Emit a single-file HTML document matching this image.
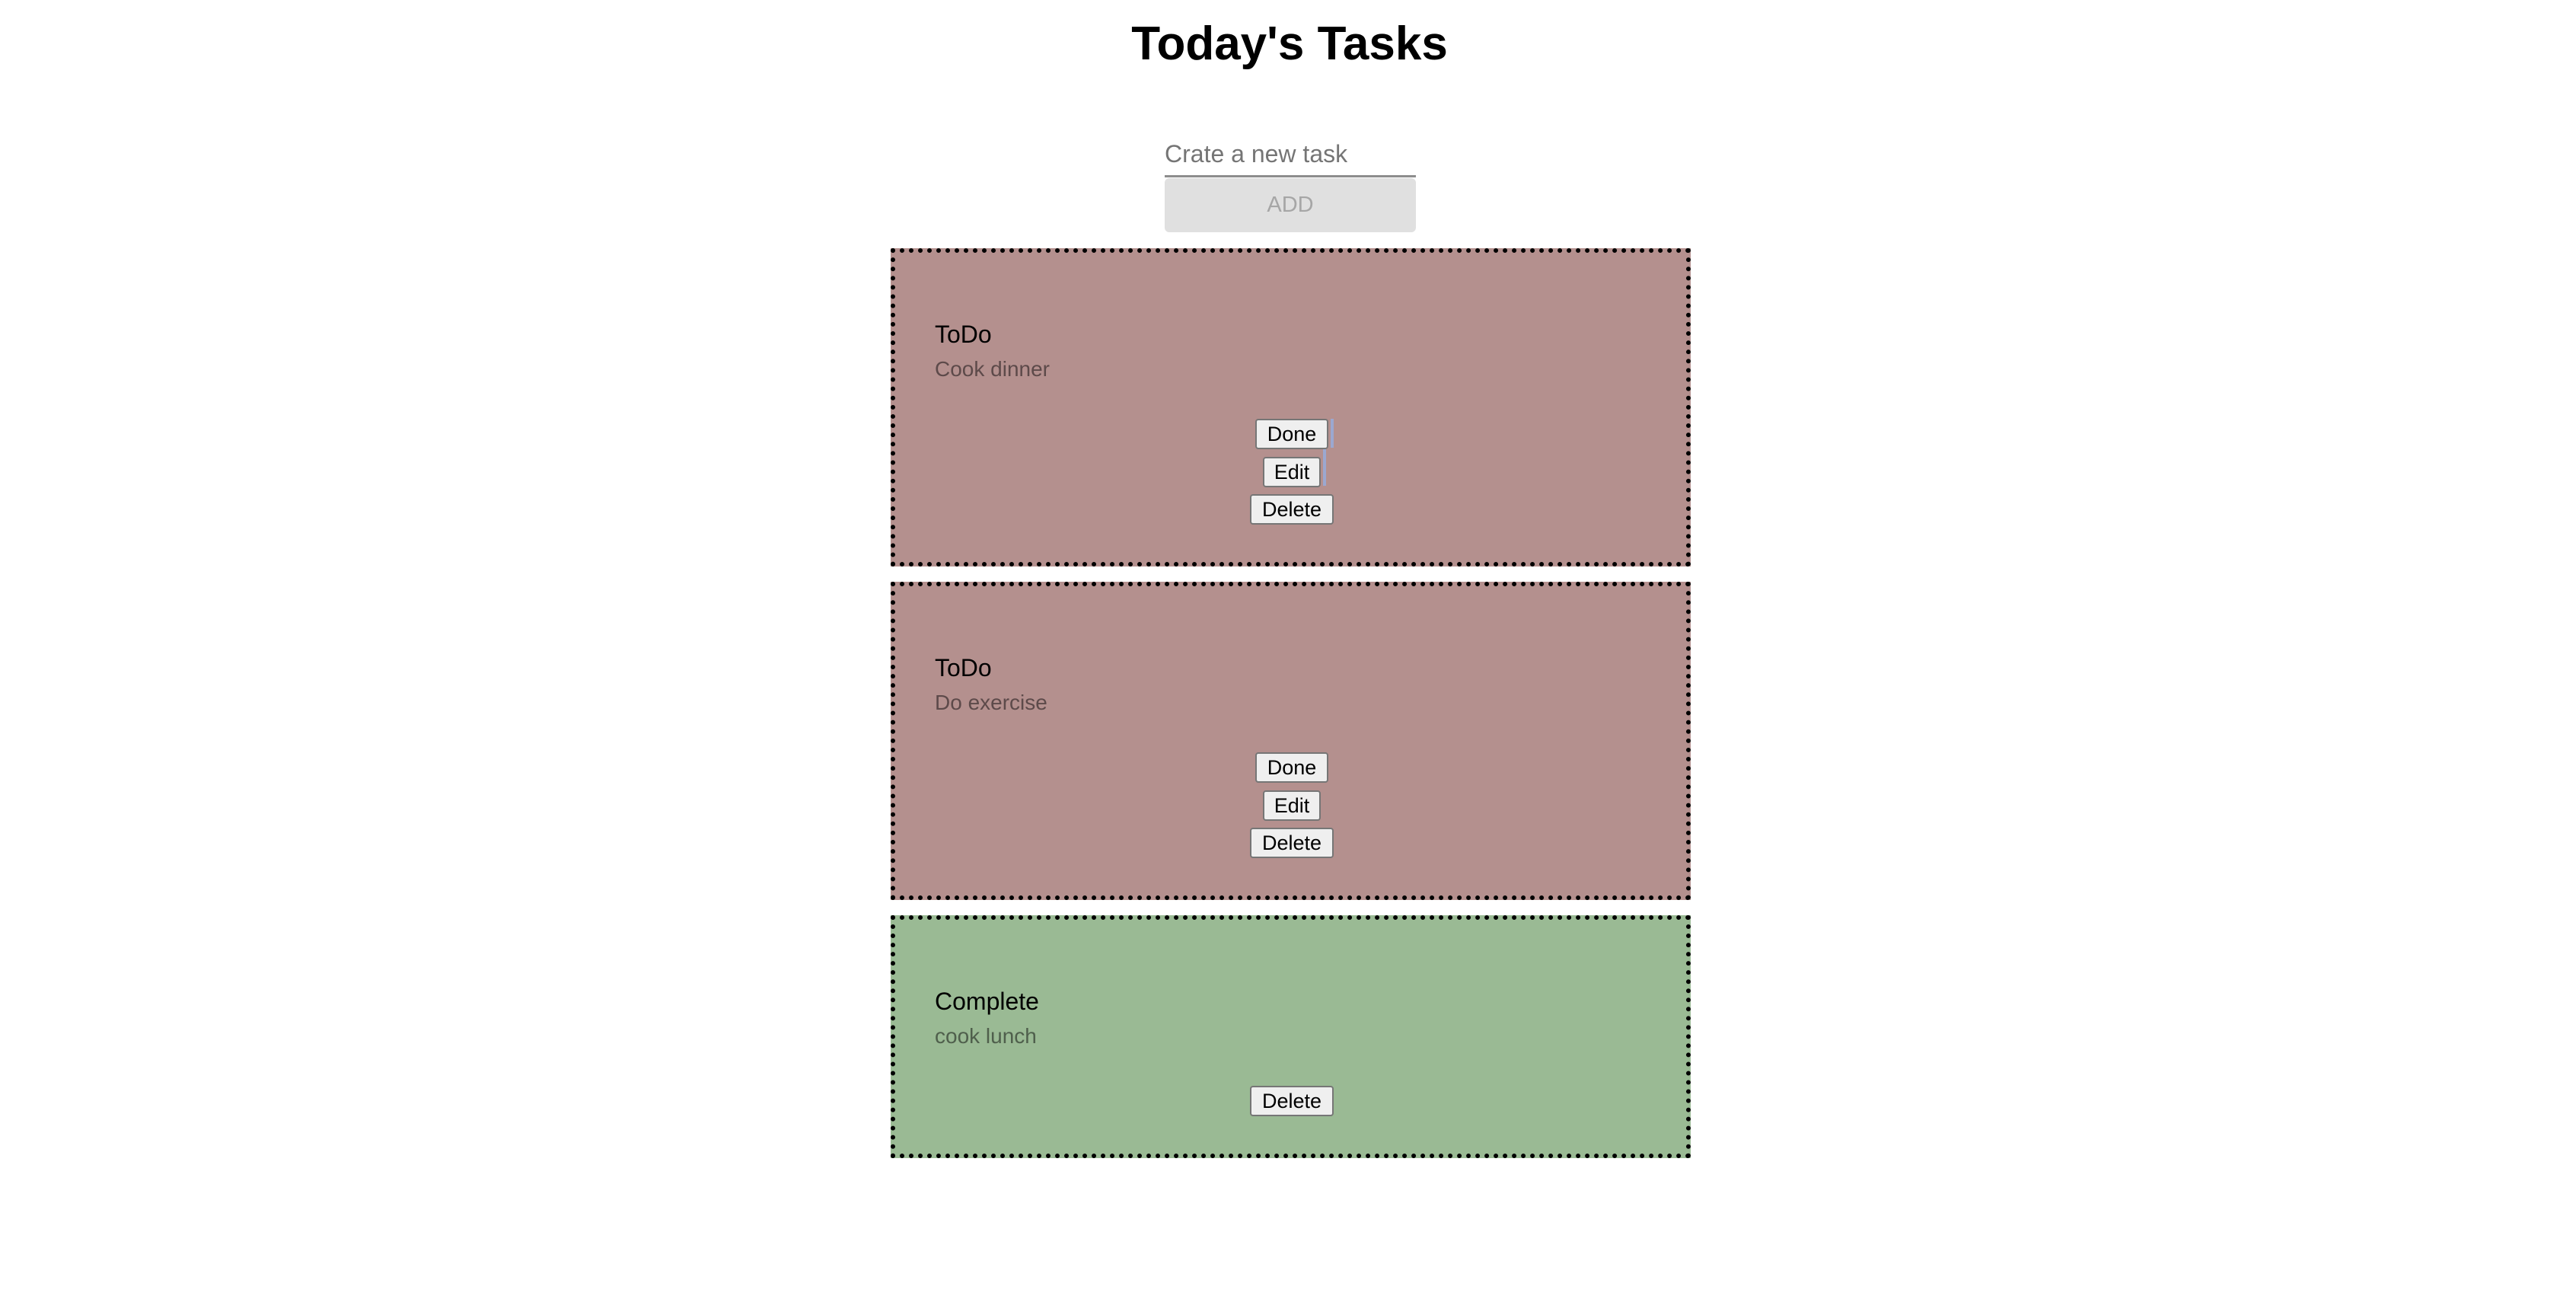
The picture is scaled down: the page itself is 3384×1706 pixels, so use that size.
<!DOCTYPE html>
<html><head><meta charset="utf-8"><style>
html,body{margin:0;padding:0;background:#fff;width:3384px;height:1706px;overflow:hidden;font-family:"Liberation Sans",Arial,sans-serif;position:relative}
.abs{position:absolute}
h1{position:absolute;left:0;width:3388px;top:22px;margin:0;text-align:center;font-size:62px;font-weight:bold;color:#000}
.ph{left:1530px;top:184px;font-size:32px;color:#757575}
.line{left:1530px;top:230px;width:330px;height:3px;background:#8d8d8d}
.add{left:1530px;top:234px;width:330px;height:71px;background:#e0e0e0;border-radius:6px;color:#a6a6a6;font-size:29px;text-align:center;line-height:71px}
.card{position:absolute;left:1170px;width:1051px;box-sizing:border-box;border:6px dotted #000}
.red{background:#b4908e}.green{background:#9aba94}
.t{position:absolute;left:52px;font-size:32px;color:#000}
.s{position:absolute;left:52px;font-size:28px}
.btn{position:absolute;box-sizing:border-box;height:40px;background:#efefef;border:2px solid #767676;border-radius:4px;font-size:27px;text-align:center;line-height:36px;color:#000}
</style></head><body>
<h1>Today's Tasks</h1>
<div class="abs ph">Crate a new task</div>
<div class="abs line"></div>
<div class="abs add">ADD</div>

<div class="card red" style="top:326px;height:418px">
  <div class="t" style="top:89px">ToDo</div>
  <div class="s" style="top:137px;color:#5d4a4a">Cook dinner</div>
  <div class="btn" style="left:473px;top:218px;width:96px">Done</div>
  <div class="btn" style="left:483px;top:268px;width:76px">Edit</div>
  <div class="btn" style="left:466px;top:317px;width:110px">Delete</div>
  <div class="abs" style="left:572px;top:218px;width:4px;height:38px;background:#9ba8d0"></div>
  <div class="abs" style="left:562px;top:258px;width:4px;height:48px;background:#9ba8d0"></div>
</div>

<div class="card red" style="top:764px;height:418px">
  <div class="t" style="top:89px">ToDo</div>
  <div class="s" style="top:137px;color:#5d4a4a">Do exercise</div>
  <div class="btn" style="left:473px;top:218px;width:96px">Done</div>
  <div class="btn" style="left:483px;top:268px;width:76px">Edit</div>
  <div class="btn" style="left:466px;top:317px;width:110px">Delete</div>
</div>

<div class="card green" style="top:1202px;height:319px">
  <div class="t" style="top:89px">Complete</div>
  <div class="s" style="top:137px;color:#4f5f4c">cook lunch</div>
  <div class="btn" style="left:466px;top:218px;width:110px">Delete</div>
</div>
</body></html>
